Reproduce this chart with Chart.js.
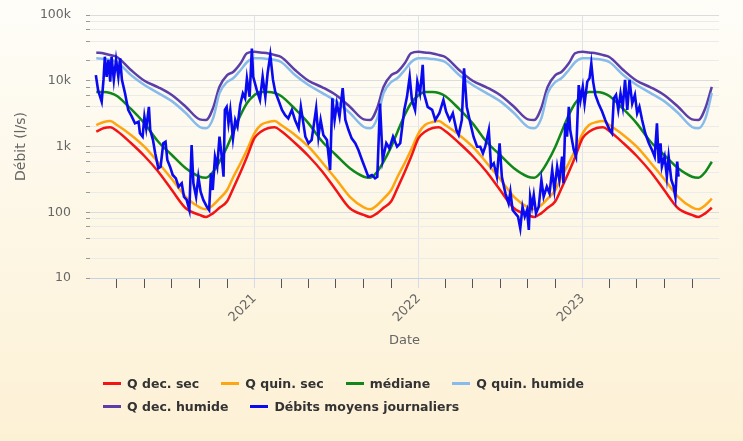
<!DOCTYPE html>
<html lang="fr">
<head>
<meta charset="utf-8">
<title>Débits moyens journaliers</title>
<script src="https://cdn.jsdelivr.net/npm/chart.js@4.4.1/dist/chart.umd.min.js"></script>
<style>
  html, body { margin: 0; padding: 0; }
  #wrap {
    position: relative; width: 743px; height: 441px; overflow: hidden;
    background: linear-gradient(to bottom, #fefdf8 0%, #fdf1d5 100%);
  }
  #chart { position: absolute; left: 0; top: 0; }
  #legend {
    position: absolute; left: 103px; top: 375px; width: 616px;
    display: flex; flex-wrap: wrap; column-gap: 22px; row-gap: 6px;
  }
  .legend-item {
    display: flex; align-items: center; white-space: nowrap;
    font: bold 12.5px 'DejaVu Sans', sans-serif; color: #333; line-height: 17px;
  }
  .legend-line { width: 18px; height: 3px; margin-right: 6px; }
</style>
</head>
<body>
<div id="wrap">
  <canvas id="chart" width="743" height="441"></canvas>
  <div id="legend" role="list"></div>
</div>
<script>
// Day-of-year statistics (l/s), repeated for each year of the period
const profileDates = ['01-01', '01-15', '02-01', '02-15', '03-01', '04-01', '05-01', '06-01', '07-01',
                      '08-01', '09-01', '09-15', '10-01', '10-15', '11-01', '11-15', '12-01', '12-15'];
const qDecSec    = [1350, 1680, 1910, 1960, 1720, 1130, 717, 413, 218, 115, 91, 85, 97, 117, 147, 234, 409, 692];
const qQuinSec   = [1600, 2120, 2360, 2440, 2120, 1500, 993, 567, 320, 172, 119, 111, 129, 161, 218, 347, 561, 885];
const mediane    = [6070, 6750, 6750, 6510, 5860, 3720, 2250, 1180, 742, 466, 347, 335, 414, 587, 993, 1680, 3010, 4540];
const qQuinHum   = [21900, 21900, 21400, 20700, 19300, 12200, 8600, 6500, 4900, 3230, 1980, 1890, 2700, 6500, 9570, 11000, 14600, 19100];
const qDecHum    = [27700, 26900, 26000, 24600, 23000, 14600, 10000, 7950, 6070, 4030, 2590, 2530, 3900, 8100, 12200, 13700, 18400, 26200];
const statYears  = [2020, 2021, 2022, 2023];
const statFirst  = '2020-01-15';
const statLast   = '2023-10-15';

// Daily mean flow (l/s); days counted from 2020-01-01
const dailyDay = [13, 18, 26, 30, 33, 37, 41, 45, 48, 53, 58, 63, 67, 71, 78, 85, 93, 100, 108, 111,
  117, 121, 125, 131, 134, 140, 145, 152, 157, 163, 168, 172, 178, 184, 191, 197, 204, 209, 215, 221,
  226, 230, 236, 241, 246, 252, 260, 265, 269, 273, 278, 283, 288, 293, 297, 300, 304, 308, 312, 318,
  323, 328, 334, 340, 345, 349, 355, 360, 363, 371, 378, 384, 390, 395, 401, 407, 412, 419, 427, 434,
  441, 449, 456, 464, 469, 479, 486, 493, 503, 508, 513, 519, 527, 534, 539, 544, 549, 555, 562, 568,
  575, 582, 590, 597, 605, 612, 619, 627, 634, 639, 645, 651, 659, 666, 674, 683, 690, 699, 705, 711,
  716, 723, 728, 734, 740, 743, 751, 761, 768, 777, 786, 792, 800, 807, 815, 820, 827, 832, 838, 846,
  853, 861, 868, 874, 879, 887, 892, 898, 905, 911, 916, 924, 931, 935, 940, 946, 952, 957, 962, 967,
  972, 976, 979, 983, 987, 992, 998, 1004, 1009, 1016, 1022, 1028, 1033, 1039, 1044, 1050, 1053, 1057, 1061, 1065,
  1068, 1072, 1076, 1081, 1087, 1091, 1096, 1100, 1106, 1111, 1115, 1119, 1124, 1131, 1139, 1146, 1154, 1161, 1165, 1170,
  1175, 1180, 1185, 1190, 1195, 1200, 1206, 1212, 1217, 1222, 1228, 1235, 1243, 1250, 1256, 1261, 1265, 1269, 1272, 1278,
  1283, 1287, 1293, 1298, 1302, 1306, 1309];
const dailyFlow = [12200, 7200, 4800, 10300, 23200, 11500, 20700, 9700, 23200, 10300, 20700, 11500, 21900, 10300, 6400, 3600, 2840, 2250, 2380, 1590,
  1410, 2840, 1890, 4000, 1780, 1260, 790, 466, 493, 1120, 1180, 623, 493, 369, 328, 245, 276, 172, 154, 108,
  1050, 276, 172, 347, 205, 154, 121, 108, 391, 218, 700, 493, 1410, 700, 347, 3600, 4000, 2250, 3600, 1330,
  2530, 2000, 4280, 6400, 5400, 10900, 5700, 31000, 11500, 7200, 5100, 11500, 5700, 13000, 24600, 10300, 6800, 5100, 3600, 3000,
  2680, 3600, 2530, 1890, 4000, 1410, 1120, 1260, 3800, 1410, 2530, 1500, 1260, 439, 5400, 2530, 4500, 2840, 7700, 2530,
  1780, 1330, 1120, 885, 623, 466, 347, 369, 328, 347, 4500, 623, 1120, 939, 1410, 993, 1120, 3600, 5700, 11500,
  5100, 3600, 9700, 6400, 17400, 6400, 4000, 3600, 2530, 3200, 5100, 3400, 2530, 3200, 1780, 1500, 2530, 15500, 4000, 2250,
  1410, 993, 993, 790, 993, 1780, 493, 555, 347, 1120, 347, 194, 137, 205, 108, 96, 86, 57, 121, 86,
  108, 54, 172, 121, 183, 96, 121, 309, 172, 245, 194, 439, 218, 493, 309, 700, 276, 2250, 1410, 4000,
  1780, 1260, 885, 700, 8600, 5100, 8100, 4500, 9700, 10900, 18400, 9700, 6100, 4500, 3400, 2530, 1890, 1590, 5400, 6100,
  3600, 6400, 4000, 10300, 3600, 10300, 4500, 6100, 3200, 4000, 2530, 1590, 1120, 885, 700, 2250, 555, 1120, 493, 700,
  347, 700, 309, 245, 172, 590, 347];

// Axes
const xMin = '2020-01-01';
const xMax = '2023-10-31';
const xTickDates  = ['2020-03-01', '2020-05-01', '2020-07-01', '2020-09-01', '2020-11-01',
                     '2021-01-01', '2021-03-01', '2021-05-01', '2021-07-01', '2021-09-01', '2021-11-01',
                     '2022-01-01', '2022-03-01', '2022-05-01', '2022-07-01', '2022-09-01', '2022-11-01',
                     '2023-01-01', '2023-03-01', '2023-05-01', '2023-07-01', '2023-09-01'];
const xTickLabels = ['', '', '', '', '',
                     '2021', '', '', '', '', '',
                     '2022', '', '', '', '', '',
                     '2023', '', '', '', ''];
const yMajor       = [10, 100, 1000, 10000, 100000];
const yMajorLabels = ['10', '100', '1k', '10k', '100k'];
const yMinorSteps  = [2, 4, 6, 8];

const BASE = Date.UTC(2020, 0, 1);
const dayOf = (iso) => (Date.parse(iso + 'T00:00:00Z') - BASE) / 864e5;

function seasonal(profile) {
  const first = dayOf(statFirst), last = dayOf(statLast);
  const pts = [];
  statYears.forEach(year => {
    profileDates.forEach((md, i) => {
      const x = dayOf(`${year}-${md}`);
      if (x >= first && x <= last) pts.push({ x, y: profile[i] });
    });
  });
  return pts;
}

const yTicks = [];
yMajor.forEach((m, i) => {
  yTicks.push(m);
  if (i < yMajor.length - 1) yMinorSteps.forEach(s => yTicks.push(m * s));
});

const line = (label, color, data, width = 2.5) => ({
  label, data,
  borderColor: color,
  backgroundColor: color,
  borderWidth: width,
  pointRadius: 0,
  cubicInterpolationMode: 'monotone',
  order: 1
});

const datasets = [
  line('Q dec. sec', '#f41414', seasonal(qDecSec)),
  line('Q quin. sec', '#ffa510', seasonal(qQuinSec)),
  line('médiane', '#10871a', seasonal(mediane)),
  line('Q quin. humide', '#86bbec', seasonal(qQuinHum)),
  line('Q dec. humide', '#5c3ea8', seasonal(qDecHum)),
  {
    label: 'Débits moyens journaliers',
    data: dailyDay.map((d, i) => ({ x: d, y: dailyFlow[i] })),
    borderColor: '#0a0af0',
    backgroundColor: '#0a0af0',
    borderWidth: 2.6,
    pointRadius: 0,
    tension: 0,
    order: 0
  }
];

Chart.defaults.font.family = "'DejaVu Sans', sans-serif";
Chart.defaults.color = '#666';

new Chart(document.getElementById('chart').getContext('2d'), {
  type: 'line',
  data: { datasets },
  options: {
    responsive: false,
    animation: false,
    layout: { padding: { left: 9, right: 24, top: 15, bottom: 93 } },
    plugins: { legend: { display: false }, tooltip: { enabled: false } },
    scales: {
      x: {
        type: 'linear',
        min: dayOf(xMin),
        max: dayOf(xMax),
        afterBuildTicks: (scale) => { scale.ticks = xTickDates.map(d => ({ value: dayOf(d) })); },
        afterFit: (scale) => { scale.height = 70; },
        ticks: {
          autoSkip: false,
          minRotation: 45,
          maxRotation: 45,
          color: '#666',
          font: { size: 13 },
          padding: 3,
          callback: (v, i) => xTickLabels[i]
        },
        grid: {
          color: (c) => xTickLabels[c.index] ? '#dfe2e8' : 'rgba(0,0,0,0)',
          tickColor: (c) => xTickLabels[c.index] ? '#d3dbe8' : '#555',
          tickWidth: 1,
          tickLength: 10,
          lineWidth: 1
        },
        border: { color: '#c3d1e6', width: 1 },
        title: { display: true, text: 'Date', color: '#666', font: { size: 13 }, padding: { top: 4, bottom: 0 } }
      },
      y: {
        type: 'logarithmic',
        min: 10,
        max: 100000,
        afterBuildTicks: (scale) => { scale.ticks = yTicks.map(v => ({ value: v })); },
        afterFit: (scale) => {
          scale.width = 81;
          scale.paddingTop = 0;
          scale.paddingBottom = 0;
        },
        ticks: {
          autoSkip: false,
          color: '#666',
          font: { size: 12.5 },
          padding: 15,
          callback: (v) => {
            const k = yMajor.indexOf(v);
            return k >= 0 ? yMajorLabels[k] : '';
          }
        },
        grid: {
          color: (c) => c.tick && yMajor.includes(c.tick.value) ? '#dcdcdc' : '#ebebeb',
          tickColor: '#999',
          tickLength: 4
        },
        border: { display: false },
        title: { display: true, text: 'Débit (l/s)', color: '#666', font: { size: 14 }, padding: { top: 4, bottom: 4 } }
      }
    }
  }
});

// HTML legend
document.getElementById('legend').innerHTML = datasets.map(ds => `
  <div class="legend-item" role="listitem">
    <span class="legend-line" style="background:${ds.borderColor};"></span>${ds.label}
  </div>`).join('');
</script>
</body>
</html>
